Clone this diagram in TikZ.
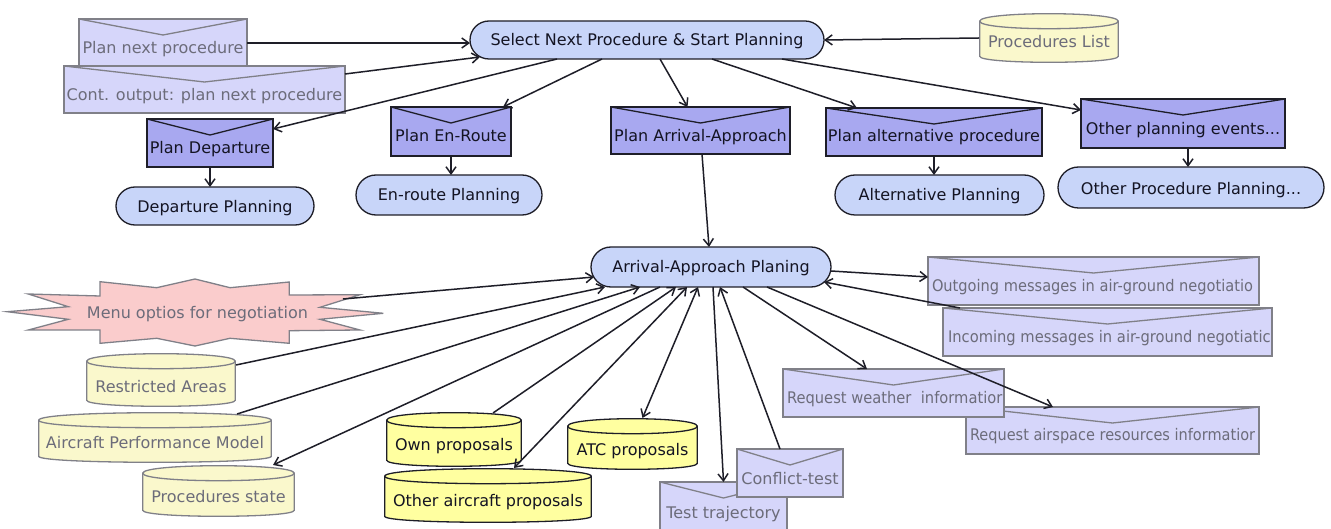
\documentclass[tikz,border=0pt]{standalone}
\usepackage{fontspec}
\setmainfont{DejaVu Sans}
\usepackage{graphicx}
\usetikzlibrary{arrows.meta,calc}
\definecolor{termfill}{RGB}{200,213,249}
\definecolor{envDfill}{RGB}{168,168,240}
\definecolor{envLfill}{RGB}{214,214,250}
\definecolor{cylLfill}{RGB}{250,248,204}
\definecolor{cylDfill}{RGB}{255,255,160}
\definecolor{starfill}{RGB}{250,204,204}
\definecolor{grayline}{RGB}{128,128,136}
\definecolor{graytext}{RGB}{108,108,122}
\definecolor{darkline}{RGB}{30,30,40}
\definecolor{darktext}{RGB}{20,20,35}
\tikzset{
  base/.style={rectangle, inner sep=0pt, outer sep=0pt, font=\fontsize{16}{19}\selectfont, line width=1.3pt},
  tb/.style={text height=#1, text depth=0pt},
  vpp/.style={path picture={\draw[#1, line width=1.3pt] (path picture bounding box.north west) -- ([yshift=-16pt]path picture bounding box.north) -- (path picture bounding box.north east);}},
  envL/.style={base, fill=envLfill, draw=grayline, text=graytext, vpp=grayline},
  envD/.style={base, fill=envDfill, draw=darkline, text=darktext, vpp=darkline},
  term/.style={base, rounded corners=#1, fill=termfill, draw=darkline, text=darktext},
  cylpp/.style 2 args={path picture={
    \filldraw[fill=#1, draw=#2, line width=1.3pt]
      ([xshift=.7pt,yshift=-8.2pt]path picture bounding box.north west)
      -- ([xshift=.7pt,yshift=6.7pt]path picture bounding box.south west)
      .. controls ([xshift=.7pt,yshift=-1.3pt]path picture bounding box.south west)
      and ([xshift=-.7pt,yshift=-1.3pt]path picture bounding box.south east)
      .. ([xshift=-.7pt,yshift=6.7pt]path picture bounding box.south east)
      -- ([xshift=-.7pt,yshift=-8.2pt]path picture bounding box.north east)
      .. controls ([xshift=-.7pt,yshift=1.8pt]path picture bounding box.north east)
      and ([xshift=.7pt,yshift=1.8pt]path picture bounding box.north west)
      .. cycle;
    \draw[#2, line width=1.3pt]
      ([xshift=.7pt,yshift=-8.2pt]path picture bounding box.north west)
      .. controls ([xshift=.7pt,yshift=-18.2pt]path picture bounding box.north west)
      and ([xshift=-.7pt,yshift=-18.2pt]path picture bounding box.north east)
      .. ([xshift=-.7pt,yshift=-8.2pt]path picture bounding box.north east);
  }},
  cylL/.style={base, text=graytext, cylpp={cylLfill}{grayline}},
  cylD/.style={base, text=darktext, cylpp={cylDfill}{darkline}},
  conn/.style={draw=darkline, line width=1.5pt, -{Straight Barb[length=7pt,width=10pt]}},
  conn2/.style={draw=darkline, line width=1.5pt, {Straight Barb[length=7pt,width=10pt]}-{Straight Barb[length=7pt,width=10pt]}},
}
\begin{document}
\begin{tikzpicture}[x=1pt,y=-1pt]
\fill[white] (0,0) rectangle (1331,529);
\useasboundingbox (0,0) rectangle (1331,529);

% starburst
\filldraw[fill=starfill, draw=grayline, line width=1.3pt]
  (7.3,311.7) -- (68.3,306.7) -- (28.3,294) -- (100,296) -- (100,281.7) -- (156.7,287.7)
  -- (195,279) -- (230,287.7) -- (289.3,282) -- (289.3,295) -- (360,294.7) -- (320,307.3)
  -- (383.3,313.3) -- (320,319.3) -- (360,330) -- (289.3,330.7) -- (289.3,343.3)
  -- (230,338.3) -- (195,346) -- (156.7,338.3) -- (100,343.3) -- (100,330) -- (28.3,330)
  -- (68.3,319.3) -- cycle;
\node[base, minimum width=372pt, minimum height=68pt, tb=14pt, text=graytext] (menu) at (197.5,312) {Menu optios for negotiation};

% top row
\node[envL, minimum width=168pt, minimum height=48pt, tb=22pt] (pnp) at (163,43) {Plan next procedure};
\node[envL, minimum width=281pt, minimum height=47pt, tb=23pt] (cop) at (204.5,89.5) {Cont. output: plan next procedure};
\node[term=19pt, minimum width=354pt, minimum height=38pt, tb=12pt] (sel) at (647,40) {Select Next Procedure \& Start Planning};
\node[cylL, minimum width=140pt, minimum height=50pt, tb=20pt] (plist) at (1049,38) {Procedures List};

\node[envD, minimum width=126pt, minimum height=48pt, tb=22pt] (pdep) at (210,143) {Plan Departure};
\node[term=19pt, minimum width=198pt, minimum height=38pt, tb=14pt] (dplan) at (215,206) {Departure Planning};
\node[envD, minimum width=120pt, minimum height=49pt, tb=21pt] (penr) at (451,131.5) {Plan En-Route};
\node[term=20pt, minimum width=186pt, minimum height=40pt, tb=12pt] (eplan) at (449,195) {En-route Planning};
\node[envD, minimum width=179pt, minimum height=47pt, tb=23pt] (parr) at (700.5,130.5) {Plan Arrival-Approach};
\node[envD, minimum width=216pt, minimum height=48pt, tb=20pt] (palt) at (934,132) {Plan alternative procedure};
\node[term=20pt, minimum width=209pt, minimum height=40pt, tb=12pt] (aplan) at (939.5,195) {Alternative Planning};
\node[envD, minimum width=204pt, minimum height=49pt, tb=23pt] (poth) at (1183,123.5) {Other planning events...};
\node[term=20.5pt, minimum width=266pt, minimum height=41pt, tb=15pt] (oplan) at (1191,187.5) {Other Procedure Planning...};

% central
\node[term=20pt, minimum width=240pt, minimum height=40pt, tb=12pt] (arr) at (711,267) {Arrival-Approach Planing};

% left data stores
\node[cylL, minimum width=150pt, minimum height=54pt, tb=24pt] (ra) at (161,380) {Restricted Areas};
\node[cylL, minimum width=234pt, minimum height=51pt, tb=21pt] (apm) at (155,437.5) {Aircraft Performance Model};
\node[cylL, minimum width=153pt, minimum height=52pt, tb=22pt] (pst) at (218.5,491) {Procedures state};
\node[cylD, minimum width=136pt, minimum height=55pt, tb=21pt] (own) at (454,439.5) {Own proposals};
\node[cylD, minimum width=208pt, minimum height=55pt, tb=21pt] (oap) at (488,495.5) {Other aircraft proposals};
\node[cylD, minimum width=131pt, minimum height=52pt, tb=22pt] (atc) at (632.5,444) {ATC proposals};

% bottom messages
\node[envL, minimum width=127pt, minimum height=48pt, tb=24pt] (tt) at (723.5,506) {Test trajectory};
\node[envL, minimum width=106pt, minimum height=48pt, tb=22pt] (ct) at (790,473) {Conflict-test};
\node[envL, minimum width=331pt, minimum height=48pt, tb=22pt] (out) at (1093.5,281) {\makebox[323pt][l]{\scalebox{0.912}[1]{Outgoing messages in air-ground negotiatio}}};
\node[envL, minimum width=329pt, minimum height=48pt, tb=22pt] (inc) at (1107.5,332) {\makebox[319pt][l]{\scalebox{0.919}[1]{Incoming messages in air-ground negotiatic}}};
\node[envL, minimum width=293pt, minimum height=47pt, tb=19pt] (rasp) at (1112.5,430.5) {\makebox[285pt][l]{\scalebox{0.907}[1]{Request airspace resources informatior}}};
\node[envL, minimum width=221pt, minimum height=48pt, tb=20pt] (rw) at (893.5,393) {\makebox[213pt][l]{\scalebox{0.918}[1]{Request weather\ \ informatior}}};

% connectors: top
\draw[conn] (pnp.east) -- (sel.west |- pnp.east);
\draw[conn] ($(cop.north east)+(0,8)$) -- ($(sel.south)+(-167,-2)$);
\draw[conn] (plist.west) -- (sel.east);
\draw[conn] ($(sel.south)+(-90,0)$) -- ($(pdep.north east)+(0,10)$);
\draw[conn] ($(sel.south)+(-45,0)$) -- ($(penr.north east)+(-8,0)$);
\draw[conn] ($(sel.south)+(13,0)$) -- ($(parr.north)+(-13,0)$);
\draw[conn] ($(sel.south)+(65,0)$) -- ($(palt.north west)+(31,0)$);
\draw[conn] ($(sel.south)+(135,0)$) -- ($(poth.north west)+(0,11)$);
\draw[conn] (pdep.south) -- (pdep.south |- dplan.north);
\draw[conn] (penr.south) -- (penr.south |- eplan.north);
\draw[conn] (palt.south) -- (palt.south |- aplan.north);
\draw[conn] ($(poth.south)+(5,0)$) -- ($(poth.south)+(5,19)$);
\draw[conn] ($(parr.south)+(1.5,0)$) -- ($(arr.north)+(-2,0)$);

% connectors: around the central node
\draw[conn] ($(menu.center)+(145.5,-13)$) -- ($(arr.west)+(3,10)$);
\draw[conn] ($(ra.north east)+(0,12)$) -- ($(arr.south)+(-106,0)$);
\draw[conn] ($(apm.north east)+(-35,2)$) -- ($(arr.south)+(-71,0)$);
\draw[conn] ($(arr.south)+(-51,0)$) -- ($(pst.north east)+(-22,0)$);
\draw[conn] ($(own.north east)+(-29,1)$) -- ($(arr.south)+(-35,0)$);
\draw[conn2] ($(oap.north west)+(130,0)$) -- ($(arr.south)+(-24,0)$);
\draw[conn2] ($(atc.north)+(10,0)$) -- ($(arr.south)+(-13,0)$);
\draw[conn] ($(arr.south)+(2,0)$) -- (tt.north);
\draw[conn] ($(ct.north)+(-10,0)$) -- ($(arr.south)+(9,0)$);
\draw[conn] ($(arr.south)+(32,0)$) -- ($(rw.north west)+(84,0)$);
\draw[conn] ($(arr.south)+(56,0)$) -- ($(rasp.north west)+(87,0)$);
\draw[conn] ($(arr.east)+(0,4)$) -- ($(out.west)+(0,-4)$);
\draw[conn] ($(inc.north west)+(17,0)$) -- ($(arr.east)+(-7,15)$);
\end{tikzpicture}
\end{document}
